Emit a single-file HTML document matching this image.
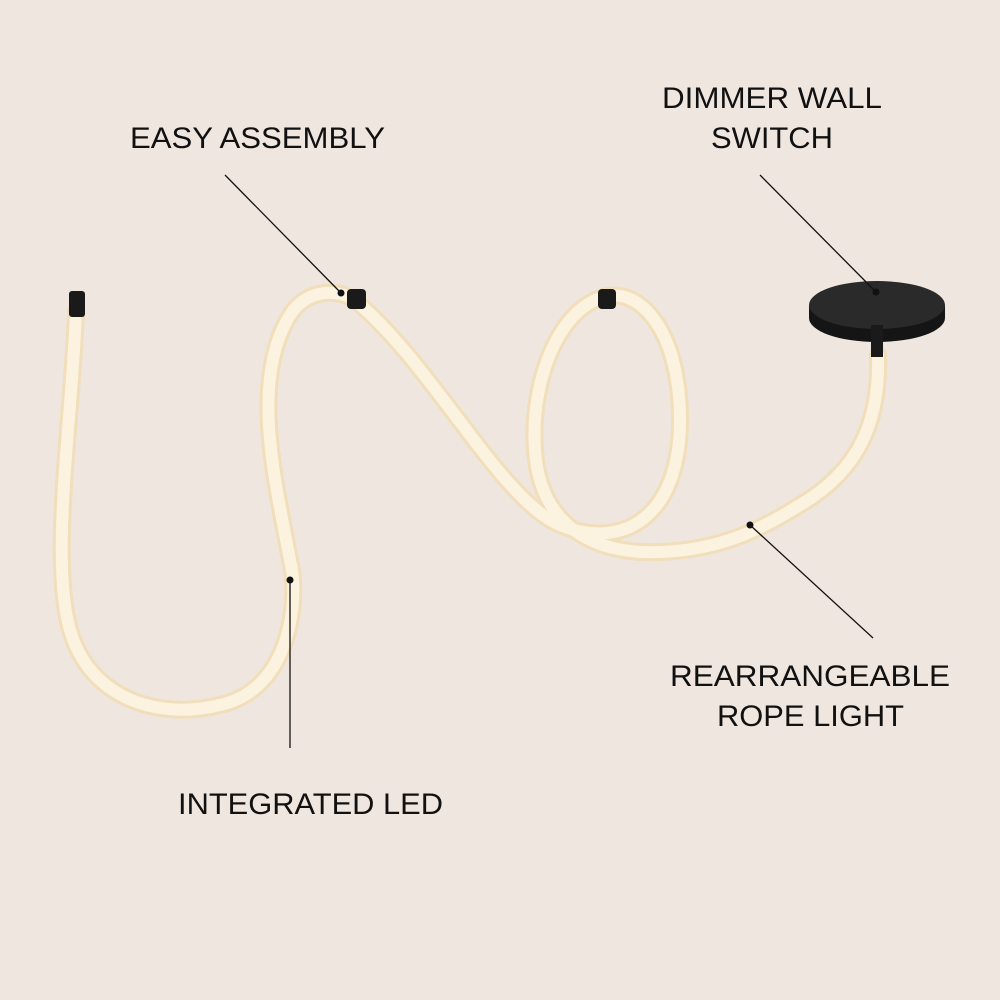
<!DOCTYPE html>
<html><head><meta charset="utf-8"><style>
html,body{margin:0;padding:0;background:#efe6e0;}
svg{display:block}
text{font-family:"Liberation Sans",sans-serif;font-size:30px;fill:#111;}
</style></head><body>
<svg width="1000" height="1000" viewBox="0 0 1000 1000" xmlns="http://www.w3.org/2000/svg">
<rect width="1000" height="1000" fill="#efe6e0"/>
<g fill="none" stroke-linecap="round" stroke-linejoin="round">
<path d="M76 312 C72 420 50 560 70 630 C90 700 160 720 220 705 C290 690 300 600 290 560 C275 480 250 380 290 315 C305 292 330 288 352 298 C430 360 500 500 560 525 C620 550 680 520 680 420 C680 330 640 290 608 296 C560 305 530 380 535 450 C540 530 600 555 660 552 C720 550 760 530 800 505 C860 470 880 420 878 355" stroke="#f1deba" stroke-width="18"/>
<path d="M76 312 C72 420 50 560 70 630 C90 700 160 720 220 705 C290 690 300 600 290 560 C275 480 250 380 290 315 C305 292 330 288 352 298 C430 360 500 500 560 525 C620 550 680 520 680 420 C680 330 640 290 608 296 C560 305 530 380 535 450 C540 530 600 555 660 552 C720 550 760 530 800 505 C860 470 880 420 878 355" stroke="#fbf2e0" stroke-width="12"/>
</g>
<rect x="69" y="291" width="16" height="26" rx="3" fill="#1a1a1a"/>
<rect x="347" y="289" width="19" height="20" rx="4" fill="#1a1a1a"/>
<rect x="598" y="289" width="18" height="20" rx="4" fill="#1a1a1a"/>
<path d="M809 305 L809 318 A68 24 0 0 0 945 318 L945 305 Z" fill="#151515"/>
<ellipse cx="877" cy="305" rx="68" ry="24" fill="#2a2a2a"/>
<rect x="871" y="325" width="12" height="32" fill="#1a1a1a"/>
<g stroke="#111" stroke-width="1.3">
<line x1="225" y1="175" x2="341" y2="293"/>
<line x1="290" y1="580" x2="290" y2="748"/>
<line x1="760" y1="175" x2="876" y2="292"/>
<line x1="750" y1="525" x2="873" y2="638"/>
</g>
<g fill="#111">
<circle cx="341" cy="293" r="3.5"/>
<circle cx="290" cy="580" r="3.5"/>
<circle cx="876" cy="292" r="3.5"/>
<circle cx="750" cy="525" r="3.5"/>
</g>
<text x="130" y="148" textLength="255" lengthAdjust="spacingAndGlyphs">EASY ASSEMBLY</text>
<text x="662" y="108" textLength="220" lengthAdjust="spacingAndGlyphs">DIMMER WALL</text>
<text x="711" y="148" textLength="122" lengthAdjust="spacingAndGlyphs">SWITCH</text>
<text x="670" y="686" textLength="280" lengthAdjust="spacingAndGlyphs">REARRANGEABLE</text>
<text x="717" y="726" textLength="187" lengthAdjust="spacingAndGlyphs">ROPE LIGHT</text>
<text x="178" y="814" textLength="265" lengthAdjust="spacingAndGlyphs">INTEGRATED LED</text>
</svg>
</body></html>
